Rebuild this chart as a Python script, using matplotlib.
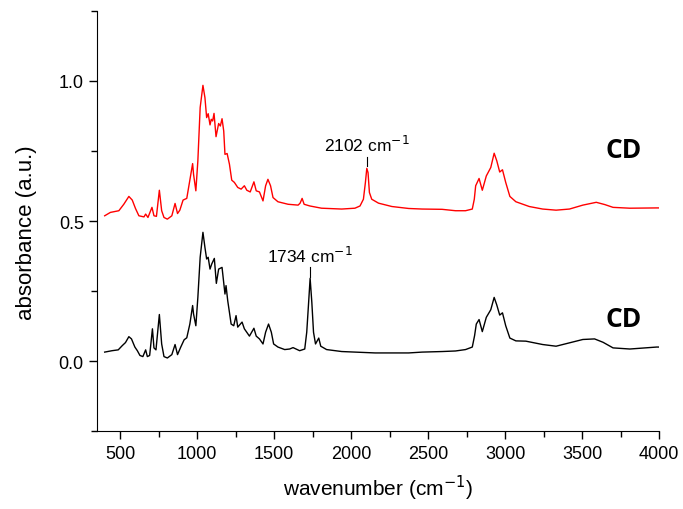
import matplotlib
matplotlib.use("Agg")
from matplotlib import pyplot as plt
from matplotlib.ticker import MultipleLocator

plt.rcParams['font.family'] = ['Liberation Sans', 'DejaVu Sans']

# red spectrum (upper trace)
red_x = [400, 437, 492, 524, 557, 579, 600, 622, 655, 666, 681, 707, 720, 736,
         755, 770, 785, 807, 836, 857, 873, 888, 909, 933, 953, 971, 977, 992,
         1005, 1020, 1038, 1051, 1062, 1072, 1084, 1092, 1101, 1110, 1123, 1140,
         1151, 1162, 1173, 1181, 1195, 1210, 1225, 1242, 1264, 1286, 1307, 1323,
         1345, 1369, 1384, 1405, 1428, 1445, 1460, 1477, 1493, 1525, 1591, 1656,
         1669, 1682, 1695, 1732, 1808, 1939, 2025, 2058, 2080, 2093, 2102, 2110,
         2119, 2134, 2178, 2265, 2374, 2461, 2591, 2678, 2743, 2787, 2800, 2809,
         2831, 2852, 2878, 2907, 2929, 2946, 2965, 2983, 3004, 3031, 3070, 3157,
         3244, 3331, 3418, 3505, 3592, 3647, 3701, 3810, 3984, 4000]
red_y = [0.519, 0.531, 0.537, 0.560, 0.588, 0.575, 0.545, 0.519, 0.515, 0.525,
         0.513, 0.549, 0.519, 0.517, 0.610, 0.537, 0.513, 0.507, 0.519, 0.563,
         0.527, 0.539, 0.575, 0.581, 0.646, 0.705, 0.667, 0.608, 0.715, 0.905,
         0.984, 0.940, 0.869, 0.883, 0.843, 0.863, 0.857, 0.884, 0.801, 0.848,
         0.839, 0.865, 0.821, 0.738, 0.741, 0.703, 0.646, 0.638, 0.620, 0.614,
         0.626, 0.610, 0.604, 0.640, 0.608, 0.604, 0.572, 0.626, 0.649, 0.626,
         0.584, 0.569, 0.560, 0.557, 0.564, 0.581, 0.560, 0.554, 0.546, 0.543,
         0.546, 0.554, 0.578, 0.638, 0.688, 0.673, 0.602, 0.578, 0.564, 0.552,
         0.545, 0.543, 0.542, 0.537, 0.537, 0.543, 0.578, 0.626, 0.652, 0.610,
         0.661, 0.691, 0.742, 0.715, 0.675, 0.683, 0.638, 0.588, 0.569, 0.552,
         0.543, 0.539, 0.543, 0.557, 0.567, 0.559, 0.549, 0.546, 0.547, 0.547]

# black spectrum (lower trace)
blk_x = [400, 448, 488, 514, 535, 557, 574, 596, 612, 629, 648, 666, 677, 692,
         710, 720, 733, 755, 770, 785, 807, 836, 857, 873, 894, 916, 933, 953,
         971, 977, 992, 1005, 1020, 1038, 1051, 1062, 1072, 1084, 1095, 1112,
         1125, 1140, 1162, 1181, 1188, 1199, 1210, 1221, 1238, 1253, 1264, 1292,
         1307, 1340, 1369, 1384, 1405, 1428, 1445, 1464, 1482, 1497, 1525, 1569,
         1601, 1623, 1666, 1699, 1712, 1723, 1734, 1745, 1756, 1769, 1790, 1803,
         1841, 1939, 2156, 2374, 2461, 2591, 2678, 2743, 2787, 2802, 2813, 2831,
         2852, 2878, 2907, 2929, 2946, 2965, 2983, 3004, 3031, 3070, 3135, 3244,
         3331, 3418, 3505, 3581, 3636, 3701, 3810, 3984, 4000]
blk_y = [0.033, 0.038, 0.041, 0.056, 0.067, 0.088, 0.080, 0.051, 0.038, 0.021,
         0.017, 0.041, 0.017, 0.021, 0.116, 0.048, 0.041, 0.167, 0.062, 0.017,
         0.012, 0.024, 0.060, 0.024, 0.051, 0.077, 0.084, 0.133, 0.199, 0.169,
         0.127, 0.228, 0.371, 0.460, 0.406, 0.365, 0.371, 0.329, 0.347, 0.367,
         0.278, 0.329, 0.335, 0.240, 0.270, 0.216, 0.175, 0.133, 0.127, 0.163,
         0.122, 0.140, 0.116, 0.090, 0.118, 0.090, 0.080, 0.062, 0.104, 0.133,
         0.104, 0.062, 0.051, 0.042, 0.044, 0.049, 0.038, 0.044, 0.104, 0.199,
         0.296, 0.211, 0.104, 0.062, 0.083, 0.054, 0.042, 0.035, 0.030, 0.030,
         0.033, 0.035, 0.037, 0.042, 0.051, 0.092, 0.133, 0.149, 0.106, 0.157,
         0.184, 0.228, 0.201, 0.165, 0.173, 0.127, 0.083, 0.073, 0.072, 0.060,
         0.054, 0.066, 0.078, 0.080, 0.068, 0.048, 0.044, 0.051, 0.051]

fig = plt.figure(figsize=(6.83, 5.10), dpi=100)
ax = fig.add_axes([0.142, 0.152, 0.823, 0.825])

ax.plot(red_x, red_y, color='red', lw=1.0)
ax.plot(blk_x, blk_y, color='black', lw=1.0)

ax.set_xlim(350, 4000)
ax.set_ylim(-0.25, 1.25)
ax.xaxis.set_major_locator(MultipleLocator(500))
ax.xaxis.set_minor_locator(MultipleLocator(250))
ax.yaxis.set_major_locator(MultipleLocator(0.5))
ax.yaxis.set_minor_locator(MultipleLocator(0.25))
ax.tick_params(which='major', direction='out', length=6, width=1, labelsize=13)
ax.tick_params(which='minor', direction='out', length=4, width=1)
ax.spines['top'].set_visible(False)
ax.spines['right'].set_visible(False)

ax.set_xlabel('wavenumber (cm$^{-1}$)', fontsize=15, labelpad=8)
ax.set_ylabel('absorbance (a.u.)', fontsize=16)
ax.yaxis.set_label_coords(-0.107, 0.475)

# peak marks
ax.plot([2102, 2102], [0.695, 0.728], color='black', lw=0.8)
ax.text(2102, 0.738, '2102 cm$^{-1}$', ha='center', va='bottom', fontsize=12.5)
ax.plot([1734, 1734], [0.300, 0.336], color='black', lw=0.8)
ax.text(1734, 0.343, '1734 cm$^{-1}$', ha='center', va='bottom', fontsize=12.5)

ax.text(3770, 0.757, 'CD', ha='center', va='center', fontsize=19,
        fontweight='bold', family=['Open Sans', 'DejaVu Sans'])
ax.text(3770, 0.152, 'CD', ha='center', va='center', fontsize=19,
        fontweight='bold', family=['Open Sans', 'DejaVu Sans'])

plt.savefig('out.png', dpi=100)
